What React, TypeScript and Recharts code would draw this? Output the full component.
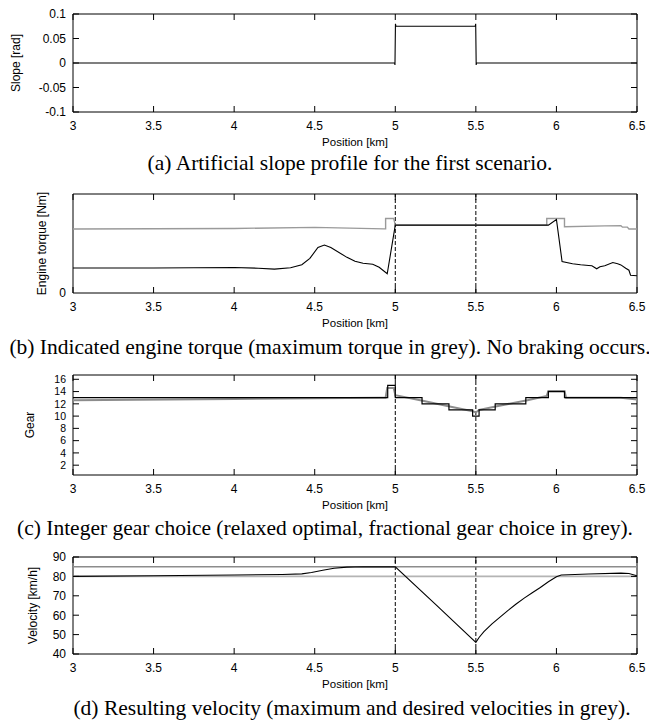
import React from "react";
import { LineChart, Line, XAxis, YAxis, ReferenceLine, ReferenceArea } from "recharts";

type Pt = [number, number];

const positionTicks = [3, 3.5, 4, 4.5, 5, 5.5, 6, 6.5];
const hillMarkers = [5, 5.5];

// (a) slope profile
const slopeTicks = [-0.1, -0.05, 0, 0.05, 0.1];
const slope: Pt[] = [
  [3, 0], [4.996, 0], [4.998, -0.004], [5.001, 0.08], [5.004, 0.075],
  [5.496, 0.075], [5.499, 0.08], [5.502, -0.004], [5.504, 0], [6.5, 0],
];

// (b) engine torque (arbitrary units, only 0 is labelled)
const torqueTicks = [0];
const maxTorque: Pt[] = [
  [3, 64.6], [4, 65.2], [4.5, 66.3], [4.93, 64.8], [4.94, 64.8], [4.94, 75.3],
  [4.99, 75.3], [5.0, 68.6], [5.94, 68.6], [5.94, 75.3], [6.05, 75.3], [6.05, 67],
  [6.3, 67.8], [6.4, 68], [6.41, 66.5], [6.44, 66.5], [6.45, 64.6], [6.5, 64.6],
];
const torque: Pt[] = [
  [3, 25.3], [3.5, 25.2], [4, 25.8], [4.15, 25], [4.25, 24.1], [4.35, 25.5],
  [4.42, 28.5], [4.47, 35], [4.52, 46], [4.56, 48.5], [4.6, 46], [4.7, 36],
  [4.75, 32], [4.8, 30], [4.86, 29], [4.9, 26], [4.95, 19.4], [5.0, 68.6],
  [5.95, 68.6], [6.0, 74.3], [6.035, 31.8], [6.1, 29.5], [6.15, 28.5],
  [6.2, 27.8], [6.22, 27.5], [6.25, 24.5], [6.27, 26.5], [6.3, 27.5],
  [6.35, 30.8], [6.38, 29.5], [6.4, 28.4], [6.43, 25], [6.45, 23], [6.46, 18],
  [6.5, 17.4],
];

// (c) gear choice
const gearTicks = [2, 4, 6, 8, 10, 12, 14, 16];
const fracGear: Pt[] = [
  [3, 12.6], [4, 12.8], [4.9, 13], [4.94, 13], [4.95, 14.6], [4.99, 14.6],
  [5.0, 13.4], [5.17, 12.5], [5.33, 11.6], [5.48, 10.8], [5.5, 10.6],
  [5.52, 11.0], [5.63, 11.6], [5.82, 12.6], [5.94, 13.3], [5.95, 14.1],
  [6.05, 14.1], [6.06, 13.0], [6.4, 13.0], [6.5, 12.7],
];
const gear: Pt[] = [
  [3, 13], [4.953, 15], [5.0, 13], [5.166, 12], [5.333, 11], [5.48, 10],
  [5.52, 11], [5.62, 12], [5.81, 13], [5.95, 14], [6.05, 13], [6.5, 13],
];

// (d) velocity
const velocityTicks = [40, 50, 60, 70, 80, 90];
const maxVelocity: Pt[] = [[3, 85], [6.5, 85]];
const desiredVelocity: Pt[] = [[3, 80], [6.5, 80]];
const velocity: Pt[] = [
  [3, 80], [3.5, 80.3], [4, 80.7], [4.3, 81], [4.42, 81.3], [4.48, 82],
  [4.55, 83.2], [4.62, 84.2], [4.7, 84.8], [4.8, 85], [5.0, 84.9], [5.25, 65.6],
  [5.5, 46], [5.52, 48.5], [5.55, 51.5], [5.6, 55.5], [5.65, 59], [5.7, 62.5],
  [5.75, 65.8], [5.8, 68.8], [5.85, 71.6], [5.9, 74.3], [5.95, 77.2], [6.0, 79.8],
  [6.03, 80.7], [6.2, 81.2], [6.4, 81.7], [6.45, 81.5], [6.5, 80.3],
];

const pts = (d: Pt[]) => d.map(([x, y]) => ({ x, y }));

const SANS = "'Liberation Sans', Arial, Helvetica, sans-serif";
const SERIF = "'Liberation Serif', 'Times New Roman', serif";
const W = 649;
const LEFT = 73;
const RIGHT = 12;
const PLOT_W = W - LEFT - RIGHT;
const TOP_PAD = 10;
const X_AXIS_H = 42;
const TICK = 6;
const X_GAP = 9;
const Y_GAP = 7;

const makeXTick = (plotH: number) => (props: any) => {
  const { x, y, payload } = props;
  const bottom = y - X_GAP;
  return (
    <g>
      <line x1={x} x2={x} y1={bottom} y2={bottom - TICK} stroke="#000" />
      <line x1={x} x2={x} y1={bottom - plotH} y2={bottom - plotH + TICK} stroke="#000" />
      <text x={x} y={y} dy="0.72em" textAnchor="middle" fontSize={12} fontFamily={SANS} fill="#000">
        {payload.value}
      </text>
    </g>
  );
};

const makeYTick = (marks: boolean, size: number) => (props: any) => {
  const { x, y, payload } = props;
  const left = x + Y_GAP;
  return (
    <g>
      {marks && <line x1={left} x2={left + TICK} y1={y} y2={y} stroke="#000" />}
      {marks && <line x1={left + PLOT_W} x2={left + PLOT_W - TICK} y1={y} y2={y} stroke="#000" />}
      <text x={x} y={y} dy="0.36em" textAnchor="end" fontSize={size} fontFamily={SANS} fill="#000">
        {payload.value}
      </text>
    </g>
  );
};

const xLabel = (props: any) => {
  const { viewBox } = props;
  return (
    <text x={viewBox.x + viewBox.width / 2} y={viewBox.y + 30} dy="0.36em" textAnchor="middle" fontSize={11.5} fontFamily={SANS} fill="#000">
      Position [km]
    </text>
  );
};

const makeYLabel = (text: string, cx: number) => (props: any) => {
  const { viewBox } = props;
  const cy = viewBox.y + viewBox.height / 2;
  return (
    <text x={cx} y={cy} dy="0.36em" textAnchor="middle" transform={`rotate(-90 ${cx} ${cy})`} fontSize={12} fontFamily={SANS} fill="#000">
      {text}
    </text>
  );
};

type PanelProps = {
  plotTop: number;
  plotH: number;
  yDomain: [number, number];
  yTicks: number[];
  yMarks?: boolean;
  yTickSize?: number;
  yLabel: string;
  yLabelX: number;
  markers?: boolean;
  children: React.ReactNode;
};

const Panel = ({ plotTop, plotH, yDomain, yTicks, yMarks = true, yTickSize = 12, yLabel, yLabelX, markers = true, children }: PanelProps) => (
  <div style={{ position: "absolute", left: 0, top: plotTop - TOP_PAD }}>
    <LineChart width={W} height={TOP_PAD + plotH + X_AXIS_H} margin={{ top: TOP_PAD, right: RIGHT, left: 0, bottom: 0 }}>
      <XAxis
        dataKey="x"
        type="number"
        domain={[3, 6.5]}
        ticks={positionTicks}
        allowDataOverflow
        axisLine={false}
        tickLine={false}
        tickSize={0}
        tickMargin={X_GAP}
        height={X_AXIS_H}
        interval={0}
        tick={makeXTick(plotH)}
        label={xLabel}
      />
      <YAxis
        type="number"
        domain={yDomain}
        ticks={yTicks}
        allowDataOverflow
        axisLine={false}
        tickLine={false}
        tickSize={0}
        tickMargin={Y_GAP}
        width={LEFT}
        interval={0}
        tick={makeYTick(yMarks, yTickSize)}
        label={makeYLabel(yLabel, yLabelX)}
      />
      <ReferenceArea x1={3} x2={6.5} y1={yDomain[0]} y2={yDomain[1]} fill="none" stroke="#000" strokeWidth={1} />
      {markers &&
        hillMarkers.map((m) => (
          <ReferenceLine key={m} x={m} stroke="#000" strokeWidth={1} strokeDasharray="4 2" />
        ))}
      {children}
    </LineChart>
  </div>
);

const Caption = ({ y, cx, children }: { y: number; cx: number; children: React.ReactNode }) => (
  <div
    style={{
      position: "absolute",
      left: cx - 400,
      width: 800,
      top: y - 13,
      height: 26,
      lineHeight: "26px",
      textAlign: "center",
      whiteSpace: "nowrap",
      fontFamily: SERIF,
      fontSize: 21.5,
      color: "#000",
    }}
  >
    {children}
  </div>
);

export default function App() {
  return (
    <div style={{ position: "absolute", left: 0, top: 0, width: W, height: 723, overflow: "hidden", background: "#fff" }}>
      <Panel plotTop={14} plotH={98} yDomain={[-0.1, 0.1]} yTicks={slopeTicks} yLabel="Slope [rad]" yLabelX={16} markers={false}>
        <Line data={pts(slope)} dataKey="y" type="linear" stroke="#000" strokeWidth={1.1} dot={false} isAnimationActive={false} />
      </Panel>
      <Caption y={163} cx={350}>(a) Artificial slope profile for the first scenario.</Caption>

      <Panel plotTop={194} plotH={99} yDomain={[0, 100]} yTicks={torqueTicks} yMarks={false} yLabel="Engine torque [Nm]" yLabelX={42}>
        <Line data={pts(maxTorque)} dataKey="y" type="linear" stroke="#9a9a9a" strokeWidth={1.4} dot={false} isAnimationActive={false} />
        <Line data={pts(torque)} dataKey="y" type="linear" stroke="#000" strokeWidth={1.1} dot={false} isAnimationActive={false} />
      </Panel>
      <Caption y={347} cx={330}>(b) Indicated engine torque (maximum torque in grey). No braking occurs.</Caption>

      <Panel plotTop={375} plotH={100} yDomain={[0.4, 16.7]} yTicks={gearTicks} yTickSize={10.5} yLabel="Gear" yLabelX={30}>
        <Line data={pts(fracGear)} dataKey="y" type="linear" stroke="#8c8c8c" strokeWidth={2} dot={false} isAnimationActive={false} />
        <Line data={pts(gear)} dataKey="y" type="stepAfter" stroke="#000" strokeWidth={1.2} dot={false} isAnimationActive={false} />
      </Panel>
      <Caption y={528} cx={325}>(c) Integer gear choice (relaxed optimal, fractional gear choice in grey).</Caption>

      <Panel plotTop={557} plotH={97} yDomain={[40, 90]} yTicks={velocityTicks} yLabel="Velocity [km/h]" yLabelX={33}>
        <Line data={pts(maxVelocity)} dataKey="y" type="linear" stroke="#8c8c8c" strokeWidth={1.6} dot={false} isAnimationActive={false} />
        <Line data={pts(desiredVelocity)} dataKey="y" type="linear" stroke="#b4b4b4" strokeWidth={1.6} dot={false} isAnimationActive={false} />
        <Line data={pts(velocity)} dataKey="y" type="linear" stroke="#000" strokeWidth={1.1} dot={false} isAnimationActive={false} />
      </Panel>
      <Caption y={708} cx={352}>(d) Resulting velocity (maximum and desired velocities in grey).</Caption>
    </div>
  );
}
